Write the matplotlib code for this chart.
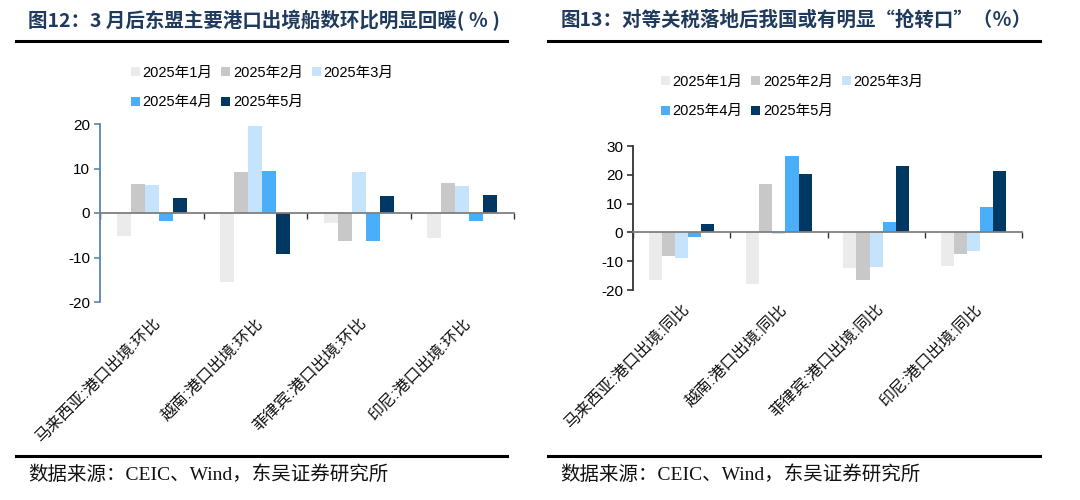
import numpy as np
import matplotlib
matplotlib.use("Agg")
import matplotlib.pyplot as plt
import matplotlib.transforms as mtransforms
from matplotlib.lines import Line2D
from matplotlib.patches import Patch

plt.rcParams['font.family'] = ['Liberation Sans', 'Noto Sans CJK SC']
plt.rcParams['axes.unicode_minus'] = False

# data
months = ['2025年1月', '2025年2月', '2025年3月', '2025年4月', '2025年5月']
colors = ['#ebebeb', '#c8c8c8', '#c5e3fb', '#4aaef8', '#003864']

left_labels = ['马来西亚:港口出境:环比', '越南:港口出境:环比', '菲律宾:港口出境:环比', '印尼:港口出境:环比']
left_jan = [-5.1, -15.4, -2.2, -5.7]
left_feb = [6.5, 9.3, -6.4, 6.7]
left_mar = [6.3, 19.5, 9.3, 6.0]
left_apr = [-1.8, 9.4, -6.4, -1.8]
left_may = [3.3, -9.2, 3.9, 4.0]

right_labels = ['马来西亚:港口出境:同比', '越南:港口出境:同比', '菲律宾:港口出境:同比', '印尼:港口出境:同比']
right_jan = [-16.5, -17.8, -12.2, -11.7]
right_feb = [-8.1, 16.8, -16.5, -7.4]
right_mar = [-8.8, -0.5, -11.9, -6.4]
right_apr = [-1.7, 26.4, 3.6, 8.8]
right_may = [3.0, 20.3, 22.9, 21.3]

left_title = '图12：3 月后东盟主要港口出境船数环比明显回暖( ％ )'
right_title = '图13：对等关税落地后我国或有明显“抢转口”（％）'
source = '数据来源：CEIC、Wind，东吴证券研究所'

fig = plt.figure(figsize=(10.8, 5), dpi=100)


def draw_panel(rect, labels, series, ylim, yticks, spine_color, label_off):
    ax = fig.add_axes(rect)
    x = np.arange(len(labels))
    w = 0.135
    for i, vals in enumerate(series):
        ax.bar(x + (i - 2) * w, vals, w, color=colors[i], zorder=2)
    ax.set_xlim(-0.5, len(labels) - 0.5)
    ax.set_ylim(*ylim)
    ax.set_yticks(yticks)
    ax.tick_params(axis='y', length=4, width=1.2, color=spine_color, labelsize=11, pad=3)
    for s in ['top', 'right']:
        ax.spines[s].set_visible(False)
    ax.spines['left'].set_color(spine_color)
    ax.spines['left'].set_linewidth(1.3)
    ax.spines['bottom'].set_position(('data', 0))
    ax.spines['bottom'].set_color('#7f7f7f')
    ax.spines['bottom'].set_linewidth(1.3)
    ax.spines['bottom'].set_zorder(3)
    ax.set_xticks(np.arange(-0.5, len(labels), 1.0))
    ax.set_xticklabels([])
    ax.tick_params(axis='x', length=4, width=1, color='#333333', direction='out')
    trans = mtransforms.blended_transform_factory(ax.transData, ax.transAxes)
    for xi, lab in zip(x, labels):
        ax.text(xi, label_off, lab, transform=trans, rotation=45,
                ha='right', va='top', rotation_mode='anchor', fontsize=11.5,
                color='#111111')
    return ax


ax1 = draw_panel([100 / 1080, 1 - 302 / 500, 414 / 1080, 178 / 500], left_labels,
                 [left_jan, left_feb, left_mar, left_apr, left_may],
                 (-20, 20), [-20, -10, 0, 10, 20], '#5b86ad', -0.075)
ax2 = draw_panel([633 / 1080, 1 - 290 / 500, 389 / 1080, 144 / 500], right_labels,
                 [right_jan, right_feb, right_mar, right_apr, right_may],
                 (-20, 30), [-20, -10, 0, 10, 20, 30], '#333333', -0.08)

# legends, row-major order: 1 2 3 / 4 5
handles = [Patch(facecolor=c, edgecolor='none') for c in colors]
order = [0, 3, 1, 4, 2]
for xl, yl in [(131 / 1080, 1 - 66 / 500), (661 / 1080, 1 - 75 / 500)]:
    fig.legend([handles[i] for i in order], [months[i] for i in order], ncol=3,
               loc='upper left', bbox_to_anchor=(xl, yl), frameon=False,
               fontsize=10.5, handlelength=0.6, handleheight=0.6, handletextpad=0.2,
               columnspacing=0.6, labelspacing=1.05, borderpad=0, borderaxespad=0)

# titles, rules and source lines
title_color = '#1f3a5c'
fig.text(28 / 1080, 1 - 20 / 500, left_title, fontsize=14, fontweight='bold',
         color=title_color, va='center', ha='left',
         family=['Noto Sans CJK SC', 'DejaVu Sans'])
fig.text(561 / 1080, 1 - 20 / 500, right_title, fontsize=14, fontweight='bold',
         color=title_color, va='center', ha='left',
         family=['Noto Sans CJK SC', 'DejaVu Sans'])
for x0, x1 in [(16, 507), (548, 1040)]:
    fig.add_artist(Line2D([x0 / 1080, x1 / 1080], [1 - 41 / 500] * 2, color='black', lw=2.2))
    fig.add_artist(Line2D([x0 / 1080, x1 / 1080], [1 - 456 / 500] * 2, color='black', lw=2.2))
for xs in [28, 560]:
    fig.text(xs / 1080, 1 - 475 / 500, source, fontsize=14, va='center', ha='left',
             family=['Liberation Serif', 'Noto Sans CJK SC'], color='#111111')

fig.savefig('out.png', dpi=100)
